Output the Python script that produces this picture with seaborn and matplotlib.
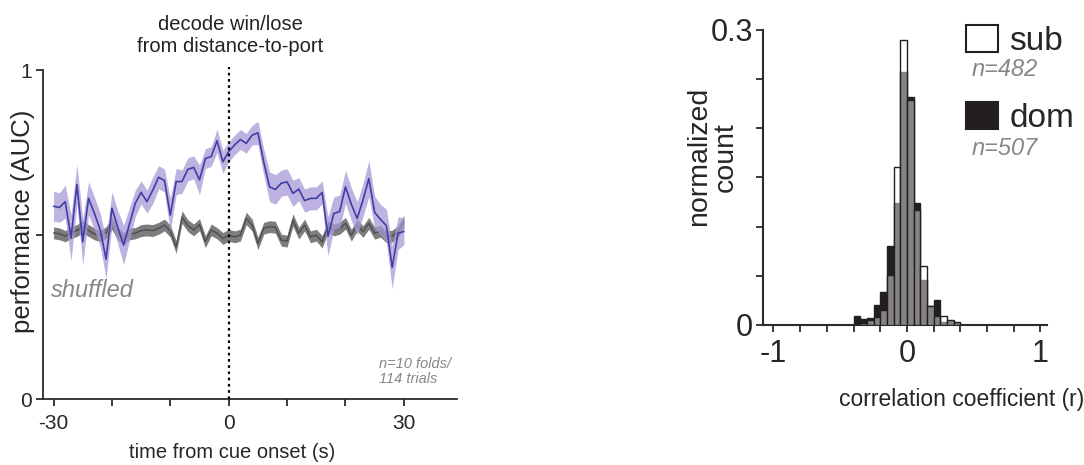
import numpy as np
import pandas as pd
import matplotlib
matplotlib.use("Agg")
import matplotlib.pyplot as plt
import seaborn as sns
from matplotlib.patches import Patch

# ---------------- data: left panel (decoder performance) ----------------
time_s = list(range(-30, 31))
decode_auc = [0.586, 0.582, 0.600, 0.490, 0.652, 0.478, 0.610, 0.564, 0.514, 0.425,
              0.580, 0.522, 0.468, 0.532, 0.595, 0.628, 0.600, 0.635, 0.674, 0.664,
              0.559, 0.661, 0.661, 0.698, 0.704, 0.666, 0.731, 0.737, 0.785, 0.721,
              0.752, 0.772, 0.789, 0.777, 0.802, 0.809, 0.720, 0.645, 0.637, 0.656,
              0.660, 0.625, 0.638, 0.603, 0.610, 0.610, 0.628, 0.495, 0.564, 0.570,
              0.645, 0.592, 0.549, 0.605, 0.670, 0.567, 0.546, 0.527, 0.400, 0.504,
              0.509]
decode_sem = [0.045, 0.045, 0.050, 0.070, 0.060, 0.070, 0.050, 0.050, 0.050, 0.060,
              0.050, 0.050, 0.060, 0.050, 0.040, 0.035, 0.035, 0.040, 0.035, 0.035,
              0.050, 0.040, 0.035, 0.035, 0.035, 0.045, 0.030, 0.030, 0.035, 0.035,
              0.030, 0.030, 0.030, 0.030, 0.030, 0.035, 0.040, 0.045, 0.045, 0.040,
              0.040, 0.040, 0.035, 0.035, 0.035, 0.035, 0.035, 0.060, 0.050, 0.050,
              0.050, 0.050, 0.050, 0.050, 0.055, 0.050, 0.045, 0.050, 0.065, 0.050,
              0.040]
shuffled_auc = [0.505, 0.502, 0.495, 0.506, 0.512, 0.524, 0.512, 0.502, 0.495, 0.506,
                0.534, 0.502, 0.488, 0.502, 0.504, 0.512, 0.514, 0.512, 0.519, 0.529,
                0.510, 0.462, 0.553, 0.527, 0.514, 0.530, 0.478, 0.514, 0.504, 0.488,
                0.498, 0.493, 0.498, 0.549, 0.529, 0.473, 0.519, 0.524, 0.522, 0.483,
                0.480, 0.544, 0.504, 0.529, 0.493, 0.498, 0.478, 0.524, 0.514, 0.519,
                0.534, 0.498, 0.529, 0.509, 0.534, 0.504, 0.510, 0.493, 0.495, 0.509,
                0.539]
shuffled_sem = [0.018, 0.018, 0.017, 0.018, 0.018, 0.019, 0.018, 0.018, 0.017, 0.018,
                0.019, 0.018, 0.018, 0.018, 0.017, 0.018, 0.018, 0.018, 0.018, 0.018,
                0.018, 0.019, 0.019, 0.018, 0.018, 0.018, 0.018, 0.018, 0.017, 0.018,
                0.018, 0.018, 0.018, 0.019, 0.018, 0.019, 0.018, 0.018, 0.018, 0.018,
                0.018, 0.019, 0.018, 0.018, 0.018, 0.018, 0.019, 0.018, 0.018, 0.018,
                0.018, 0.018, 0.018, 0.018, 0.018, 0.018, 0.018, 0.018, 0.018, 0.018,
                0.019]
left_xticks = [-30, -20, -10, 0, 10, 20, 30]
left_xticklabels = ["-30", "", "", "0", "", "", "30"]
left_yticks = [0, 0.5, 1]
left_yticklabels = ["0", "", "1"]

# ---------------- data: right panel (histogram) ----------------
bin_edges = [-0.40, -0.35, -0.30, -0.25, -0.20, -0.15, -0.10, -0.05, 0.00,
             0.05, 0.10, 0.15, 0.20, 0.25, 0.30, 0.35, 0.40]
bin_centers = [-0.375, -0.325, -0.275, -0.225, -0.175, -0.125, -0.075, -0.025,
               0.025, 0.075, 0.125, 0.175, 0.225, 0.275, 0.325, 0.375]
sub_hist = [0.000, 0.002, 0.005, 0.008, 0.015, 0.051, 0.161, 0.290,
            0.229, 0.117, 0.060, 0.019, 0.009, 0.009, 0.005, 0.003]
dom_hist = [0.009, 0.006, 0.007, 0.020, 0.034, 0.080, 0.124, 0.257,
            0.232, 0.124, 0.046, 0.019, 0.025, 0.003, 0.004, 0.002]
right_xticks = [-1.0, -0.8, -0.6, -0.4, -0.2, 0.0, 0.2, 0.4, 0.6, 0.8, 1.0]
right_xticklabels = ["-1", "", "", "", "", "0", "", "", "", "", "1"]
right_yticks = [0, 0.05, 0.10, 0.15, 0.20, 0.25, 0.30]
right_yticklabels = ["0", "", "", "", "", "", "0.3"]
groups = ["sub", "dom"]
group_n = ["n=482", "n=507"]

# ---------------- style ----------------
sns.set_style("ticks")
plt.rcParams["font.family"] = ["Liberation Sans", "DejaVu Sans"]
plt.rcParams["axes.unicode_minus"] = False

SPINE = "#2b2b2b"
BLUE = "#3f3fa6"
LAV = "#a898d6"
GRAYLINE = "#4d4d4d"
GRAYFILL = "#6f6f6f"
TXTGRAY = "#8a8686"
DOM = "#231f20"

fig = plt.figure(figsize=(10.84, 4.65), dpi=100)
axL = fig.add_axes([0.0397, 0.1419, 0.3819, 0.7075])
axR = fig.add_axes([0.7039, 0.3011, 0.262, 0.6344])

# ---- left panel ----
df = pd.DataFrame({"t": time_s, "auc": decode_auc, "sem": decode_sem,
                   "sh": shuffled_auc, "shsem": shuffled_sem})

axL.fill_between(df["t"], df["sh"] - df["shsem"], df["sh"] + df["shsem"],
                 color=GRAYFILL, alpha=0.9, lw=0, zorder=2)
sns.lineplot(data=df, x="t", y="sh", ax=axL, color=GRAYLINE, lw=1.0, zorder=3)
axL.fill_between(df["t"], df["auc"] - df["sem"], df["auc"] + df["sem"],
                 color=LAV, alpha=0.75, lw=0, zorder=4)
sns.lineplot(data=df, x="t", y="auc", ax=axL, color=BLUE, lw=1.2, zorder=5)

axL.axvline(0, ymin=0, ymax=1.01, color="black", lw=1.6, ls=(0, (1.2, 1.6)),
            zorder=6, clip_on=False)

axL.set_xlim(-31.8, 39.1)
axL.set_ylim(0, 1)
axL.set_xticks(left_xticks)
axL.set_xticklabels(left_xticklabels, fontsize=15)
axL.set_yticks(left_yticks)
axL.set_yticklabels(left_yticklabels, fontsize=15)
axL.tick_params(direction="out", length=5, width=1.3, color=SPINE, pad=3)
axL.tick_params(axis="x", pad=6)
for s in ["top", "right"]:
    axL.spines[s].set_visible(False)
for s in ["left", "bottom"]:
    axL.spines[s].set_color(SPINE)
    axL.spines[s].set_linewidth(1.3)

axL.set_xlabel("time from cue onset (s)", fontsize=14.5)
axL.xaxis.set_label_coords(0.4565, -0.135)
axL.set_ylabel("performance (AUC)", fontsize=18.5)
axL.yaxis.set_label_coords(-0.02, 0.54)

fig.text(230 / 1084, 1 - 35 / 465, "decode win/lose\nfrom distance-to-port",
         ha="center", va="center", fontsize=14.5, linespacing=1.2, color="#222222")
axL.text(-30.4, 0.331, "shuffled", fontsize=17, style="italic", color=TXTGRAY,
         ha="left", va="center")
axL.text(25.8, 0.085, "n=10 folds/\n114 trials", fontsize=10.5, style="italic",
         color=TXTGRAY, ha="left", va="center", linespacing=1.1)

# ---- right panel ----
sns.histplot(x=bin_centers, weights=dom_hist, bins=bin_edges, ax=axR,
             element="bars", stat="count", facecolor=DOM, edgecolor=DOM,
             linewidth=1.0, zorder=2)
sns.histplot(x=bin_centers, weights=sub_hist, bins=bin_edges, ax=axR,
             element="bars", stat="count", facecolor=(1, 1, 1, 0.45),
             edgecolor=DOM, linewidth=1.0, zorder=3)

axR.set_xlim(-1.078, 1.05)
axR.set_ylim(0, 0.3)
axR.set_xticks(right_xticks)
axR.set_xticklabels(right_xticklabels, fontsize=22)
axR.set_yticks(right_yticks)
axR.set_yticklabels(right_yticklabels, fontsize=22)
axR.tick_params(direction="out", length=5, width=1.3, color=SPINE, pad=2)
axR.tick_params(axis="x", pad=5)
for s in ["top", "right"]:
    axR.spines[s].set_visible(False)
for s in ["left", "bottom"]:
    axR.spines[s].set_color(SPINE)
    axR.spines[s].set_linewidth(1.5)

axR.set_xlabel("correlation coefficient (r)", fontsize=16.5)
axR.xaxis.set_label_coords(0.70, -0.215)
axR.set_ylabel("normalized\ncount", fontsize=20.5, linespacing=1.05)
axR.yaxis.set_label_coords(-0.085, 0.57)

handles = [Patch(facecolor="white", edgecolor=DOM, linewidth=1.5),
           Patch(facecolor=DOM, edgecolor=DOM, linewidth=1.5)]
leg = fig.legend(handles, groups, loc="upper left",
                 bbox_to_anchor=(966 / 1084, 1 - 25 / 465), frameon=False,
                 fontsize=24, handlelength=0.95, handleheight=0.85,
                 handletextpad=0.35, labelspacing=1.36, borderpad=0,
                 borderaxespad=0)
fig.text(972 / 1084, 1 - 69 / 465, group_n[0], fontsize=17, style="italic",
         color=TXTGRAY, ha="left", va="center")
fig.text(972 / 1084, 1 - 148 / 465, group_n[1], fontsize=17, style="italic",
         color=TXTGRAY, ha="left", va="center")

fig.savefig("out.png", dpi=100)
